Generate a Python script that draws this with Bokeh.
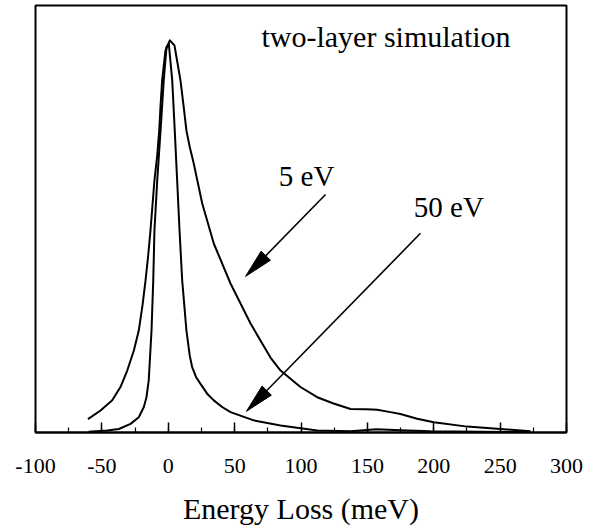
from bokeh.plotting import figure
from bokeh.models import Range1d, SingleIntervalTicker
from bokeh.core.properties import value
from bokeh.embed import file_html
from bokeh.resources import INLINE

# ---- data ----
loss_5ev = [-60.5, -51.0, -42.2, -36.0, -30.9, -25.9, -22.2, -19.4, -17.1, -15.1, -13.4, -11.9,
            -10.4, -8.3, -6.8, -5.8, -4.6, -2.1, 1.2, 4.7, 9.2, 11.5, 13.7, 16.2, 19.2, 25.6,
            34.3, 46.9, 62.0, 77.0, 84.6, 99.6, 112.2, 124.5, 137.3, 149.3, 157.4, 167.4, 174.9,
            187.5, 200.0, 225.2, 250.3, 272.9]
int_5ev = [3.4, 5.6, 8.2, 11.6, 15.8, 20.9, 26.0, 32.4, 38.8, 45.2, 51.5, 57.9,
           64.3, 70.7, 77.0, 83.4, 89.8, 97.4, 100.0, 98.7, 89.8, 83.4, 77.0, 72.8, 68.6, 58.4,
           48.2, 38.0, 27.8, 19.1, 15.8, 11.6, 9.0, 7.4, 6.0, 5.9, 5.8, 5.2, 4.7,
           3.5, 2.6, 1.5, 0.9, 0.3]

loss_50ev = [-60.0, -46.0, -37.2, -28.4, -22.2, -18.4, -16.4, -14.7, -12.6, -11.3, -10.4, -8.3,
             -5.8, -3.4, -1.3, 0.4, 3.0, 4.9, 6.7, 8.5, 10.5, 13.7, 16.2, 18.0, 21.0, 24.3,
             29.3, 34.3, 40.6, 46.9, 64.4, 84.6, 112.2, 137.3, 156.9, 174.9, 197.5, 235.0, 272.9]
int_50ev = [0.2, 0.5, 0.9, 2.2, 3.9, 6.5, 9.0, 13.3, 26.0, 38.8, 51.5, 64.3,
            77.0, 89.8, 98.3, 99.2, 89.8, 77.0, 64.3, 51.5, 38.8, 26.0, 19.6, 16.7, 14.1, 12.4,
            9.9, 8.2, 6.5, 5.2, 3.1, 1.8, 0.5, 0.3, 0.8, 0.6, 0.3, 0.2, 0.1]

x_start, x_end = -100, 300
y_start, y_end = 0, 108.9
tick_values = [-100, -50, 0, 50, 100, 150, 200, 250, 300]
tick_labels = ["-100", "-50", "0", "50", "100", "150", "200", "250", "300"]

note_texts = ["two-layer simulation", "5 eV", "50 eV"]
note_x = [70.2, 83.3, 185.0]
note_y = [101.1, 65.5, 57.4]
note_sizes = ["30px", "29px", "29px"]

arrow_tail_x = [118.5, 190.0]
arrow_tail_y = [60.7, 50.8]
arrow_tip_x = [58.2, 58.9]
arrow_tip_y = [39.8, 5.4]

# ---- layout ----
W, H = 590, 530
ML, MR, MT, MB = 35, 24, 5, 98
FW, FH = W - ML - MR, H - MT - MB
HEAD_LEN, HEAD_W = 29.0, 13.0
FONT = "Liberation Serif"

p = figure(width=W, height=H, x_range=Range1d(x_start, x_end), y_range=Range1d(y_start, y_end),
           output_backend="svg", toolbar_location=None,
           min_border_left=ML, min_border_right=MR, min_border_top=MT, min_border_bottom=MB)
p.grid.visible = False
p.yaxis.visible = False
p.outline_line_color = "black"
p.outline_line_width = 2
p.outline_line_alpha = 1.0
p.background_fill_color = "white"
p.border_fill_color = "white"

ax = p.xaxis[0]
ax.ticker = SingleIntervalTicker(interval=50, num_minor_ticks=2)
ax.major_label_overrides = dict(zip(tick_values, tick_labels))
ax.axis_line_width = 2
ax.axis_line_color = "black"
ax.major_tick_in = 10
ax.major_tick_out = 0
ax.minor_tick_in = 5
ax.minor_tick_out = 0
ax.major_tick_line_width = 1.5
ax.minor_tick_line_width = 1.2
ax.major_tick_line_color = "black"
ax.minor_tick_line_color = "black"
ax.major_label_text_font = FONT
ax.major_label_text_font_size = "22px"
ax.major_label_text_color = "black"
ax.major_label_standoff = 26
ax.axis_label = "Energy Loss (meV)"
ax.axis_label_text_font = FONT
ax.axis_label_text_font_size = "30px"
ax.axis_label_text_font_style = "normal"
ax.axis_label_text_color = "black"
ax.axis_label_standoff = 16

p.line(loss_5ev, int_5ev, line_color="black", line_width=2, line_join="round")
p.line(loss_50ev, int_50ev, line_color="black", line_width=2, line_join="round")

# annotations
for t, x, y, s in zip(note_texts, note_x, note_y, note_sizes):
    p.text(x=[x], y=[y], text=[t], text_font=value(FONT), text_font_size=s,
           text_color="black", text_align="left", text_baseline="alphabetic")

# arrows: shaft + elongated filled head computed in screen space
sx = FW / (x_end - x_start)
sy = FH / (y_end - y_start)
head_xs, head_ys = [], []
for x0, y0, x1, y1 in zip(arrow_tail_x, arrow_tail_y, arrow_tip_x, arrow_tip_y):
    dx, dy = (x1 - x0) * sx, (y1 - y0) * sy
    n = (dx * dx + dy * dy) ** 0.5
    ux, uy = dx / n, dy / n
    bx, by = -ux * HEAD_LEN, -uy * HEAD_LEN
    px_, py_ = -uy * HEAD_W / 2, ux * HEAD_W / 2
    head_xs.append([x1, x1 + (bx + px_) / sx, x1 + (bx - px_) / sx])
    head_ys.append([y1, y1 + (by + py_) / sy, y1 + (by - py_) / sy])
    p.line([x0, x1 - ux * HEAD_LEN * 0.5 / sx], [y0, y1 - uy * HEAD_LEN * 0.5 / sy],
           line_color="black", line_width=1.6)
p.patches(head_xs, head_ys, fill_color="black", line_color="black", line_width=1)

open("out.html", "w").write(file_html(p, INLINE))
